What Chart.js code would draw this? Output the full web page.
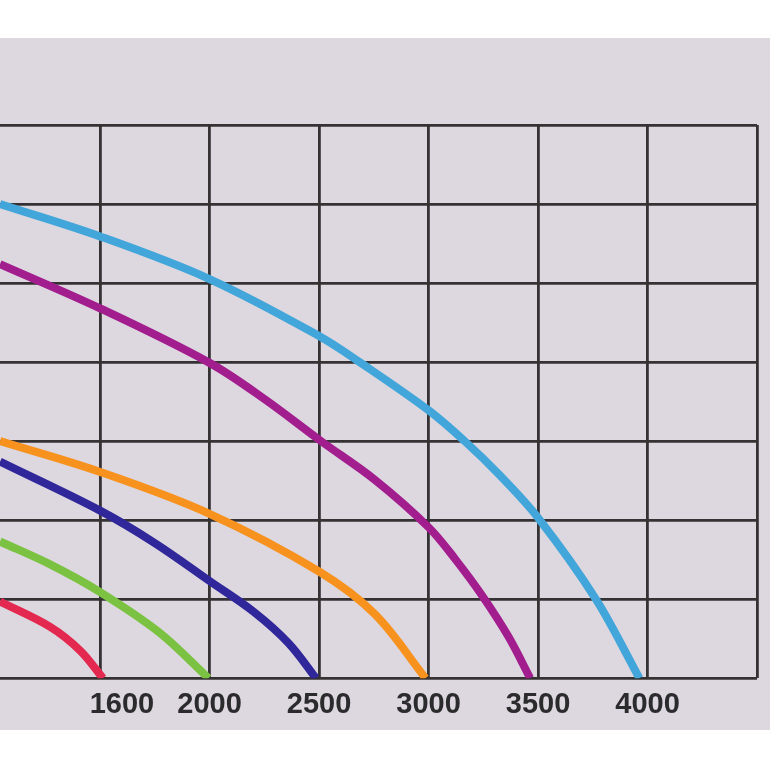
<!DOCTYPE html>
<html>
<head>
<meta charset="utf-8">
<script src="https://cdn.jsdelivr.net/npm/chart.js@4/dist/chart.umd.min.js"></script>
<style>
  html, body { margin: 0; padding: 0; background: #ffffff; }
  #card { position: absolute; left: 0; top: 38px; width: 770px; height: 692px; background: #ddd8df; }
  #wrap { position: absolute; left: 0; top: 0; width: 770px; height: 770px; }
</style>
</head>
<body>
<div id="card"></div>
<div id="wrap"><canvas id="c" width="770" height="770"></canvas></div>
<script>
// Flow axis: tick labels and grid positions
const tickLabels = ['1600', '2000', '2500', '3000', '3500', '4000'];
const gridFlows = [1500, 2000, 2500, 3000, 3500, 4000, 4500];
const gridHeads = [0, 1, 2, 3, 4, 5, 6, 7];

// Curves (flow, head)
const redFlow = [1043, 1272, 1409, 1513];
const redHead = [0.97, 0.65, 0.35, 0];

const greenFlow = [1043, 1272, 1500, 1770, 1995];
const greenHead = [1.73, 1.44, 1.09, 0.58, 0];

const indigoFlow = [1043, 1500, 1750, 2000, 2202, 2362, 2486];
const indigoHead = [2.74, 2.12, 1.71, 1.23, 0.84, 0.44, 0];

const orangeFlow = [1043, 1500, 2000, 2500, 2755, 2986];
const orangeHead = [3.0, 2.61, 2.08, 1.35, 0.81, 0];

const purpleFlow = [1043, 1500, 2000, 2252, 2509, 2755, 3000, 3121, 3246, 3366, 3464];
const purpleHead = [5.24, 4.68, 3.99, 3.53, 3.0, 2.51, 1.91, 1.51, 1.04, 0.52, 0];

const blueFlow = [1043, 1500, 2000, 2500, 2685, 3000, 3165, 3321, 3500, 3764, 3963];
const blueHead = [6.0, 5.59, 5.05, 4.33, 4.0, 3.39, 3.0, 2.58, 2.03, 1.0, 0];

function pts(xs, ys) { return xs.map((x, i) => ({ x: x, y: ys[i] })); }

function series(label, xs, ys, color) {
  return {
    label: label,
    data: pts(xs, ys),
    borderColor: color,
    backgroundColor: color,
    borderWidth: 8,
    pointRadius: 0,
    tension: 0.35,
    borderCapStyle: 'butt',
    fill: false
  };
}

const xTicks = Array.from(new Set(gridFlows.concat(tickLabels.map(Number)))).sort((a, b) => a - b);

new Chart(document.getElementById('c'), {
  type: 'line',
  data: {
    datasets: [
      series('1600', redFlow, redHead, '#e3294f'),
      series('2000', greenFlow, greenHead, '#7cc242'),
      series('2500', indigoFlow, indigoHead, '#30279a'),
      series('3000', orangeFlow, orangeHead, '#f7921f'),
      series('3500', purpleFlow, purpleHead, '#a21d8e'),
      series('4000', blueFlow, blueHead, '#43a6da')
    ]
  },
  options: {
    responsive: false,
    animation: false,
    events: [],
    layout: { padding: { left: 0, right: 13, top: 125, bottom: 39 } },
    plugins: { legend: { display: false }, tooltip: { enabled: false } },
    scales: {
      x: {
        type: 'linear',
        min: 1043,
        max: 4500,
        afterBuildTicks: (scale) => { scale.ticks = xTicks.map(v => ({ value: v })); },
        border: { display: false },
        grid: {
          drawTicks: false,
          lineWidth: 2.8,
          color: (c) => (c.tick && gridFlows.includes(c.tick.value)) ? '#343233' : 'rgba(0,0,0,0)'
        },
        ticks: {
          autoSkip: false,
          maxRotation: 0,
          padding: 9,
          color: '#2b2a2c',
          font: { family: 'Liberation Sans', size: 29, weight: 'bold' },
          callback: (v) => tickLabels.includes(String(v)) ? String(v) : ''
        }
      },
      y: {
        type: 'linear',
        min: 0,
        max: 7,
        afterBuildTicks: (scale) => { scale.ticks = gridHeads.map(v => ({ value: v })); },
        border: { display: false },
        grid: { drawTicks: false, lineWidth: 2.8, color: '#343233' },
        ticks: { display: false }
      }
    }
  }
});
</script>
</body>
</html>
